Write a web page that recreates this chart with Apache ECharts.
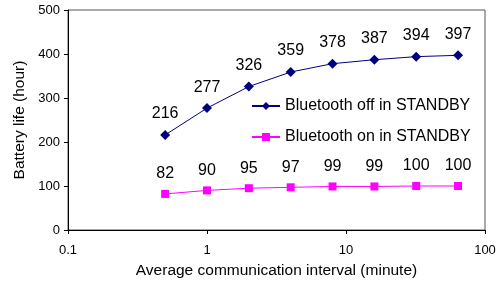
<!DOCTYPE html>
<html>
<head>
<meta charset="utf-8">
<script src="https://cdn.jsdelivr.net/npm/echarts@6/dist/echarts.min.js"></script>
<style>
  html, body { margin: 0; padding: 0; background: #fff; }
  #chart { width: 500px; height: 287px; }
</style>
</head>
<body>
<div id="chart"></div>
<script>
// intervals (minute) and battery life (hour)
const intervals = [0.5, 1, 2, 4, 8, 16, 32, 64];
const btOff = [216, 277, 326, 359, 378, 387, 394, 397];
const btOn = [82, 90, 95, 97, 99, 99, 100, 100];
const seriesNames = ['Bluetooth off in STANDBY', 'Bluetooth on in STANDBY'];
const xTicks = [0.1, 1, 10, 100];

const font = 'Arial, "Liberation Sans", sans-serif';

function pairs(vals) {
  return intervals.map((x, i) => [x, vals[i]]);
}

const chart = echarts.init(document.getElementById('chart'));

chart.setOption({
  animation: false,
  textStyle: { fontFamily: font, color: '#000' },
  grid: {
    left: 68, right: 15, top: 10, bottom: 57,
    show: true, borderColor: '#555', borderWidth: 1
  },
  legend: {
    orient: 'vertical',
    left: 246, top: 93,
    itemGap: 15,
    itemWidth: 28, itemHeight: 10,
    textStyle: { fontSize: 16, color: '#000', fontFamily: font },
    data: seriesNames
  },
  xAxis: {
    type: 'log',
    logBase: 10,
    min: 0.1, max: 100,
    name: 'Average communication interval (minute)',
    nameLocation: 'middle',
    nameGap: 33,
    nameTextStyle: { fontSize: 15.5, color: '#000' },
    axisLine: { lineStyle: { color: '#000', width: 1 } },
    axisTick: { show: true, inside: false, length: 4, lineStyle: { color: '#000' } },
    minorTick: { show: false },
    splitLine: { show: false },
    axisLabel: {
      fontSize: 13, color: '#000', margin: 14,
      formatter: v => {
        const t = xTicks.find(k => Math.abs(k - v) < 1e-9 * Math.max(1, v));
        return t !== undefined ? String(t) : '';
      }
    }
  },
  yAxis: {
    type: 'value',
    min: 0, max: 500, interval: 100,
    name: 'Battery life (hour)',
    nameLocation: 'middle',
    nameGap: 40,
    nameTextStyle: { fontSize: 15.5, color: '#000' },
    axisLine: { show: true, lineStyle: { color: '#000', width: 1 } },
    axisTick: { show: true, length: 4, lineStyle: { color: '#000' } },
    splitLine: { show: false },
    axisLabel: { fontSize: 13, color: '#000', margin: 8 }
  },
  series: [
    {
      name: seriesNames[0],
      type: 'line',
      data: pairs(btOff),
      symbol: 'diamond',
      symbolSize: 10,
      itemStyle: { color: '#000080' },
      lineStyle: { color: '#000080', width: 1 },
      label: { show: true, position: 'top', distance: 8, fontSize: 16, color: '#000', formatter: p => p.value[1] }
    },
    {
      name: seriesNames[1],
      type: 'line',
      data: pairs(btOn),
      symbol: 'rect',
      symbolSize: 8,
      itemStyle: { color: '#ff00ff' },
      lineStyle: { color: '#ff00ff', width: 1 },
      label: { show: true, position: 'top', distance: 8, fontSize: 16, color: '#000', formatter: p => p.value[1] }
    }
  ]
});
</script>
</body>
</html>
